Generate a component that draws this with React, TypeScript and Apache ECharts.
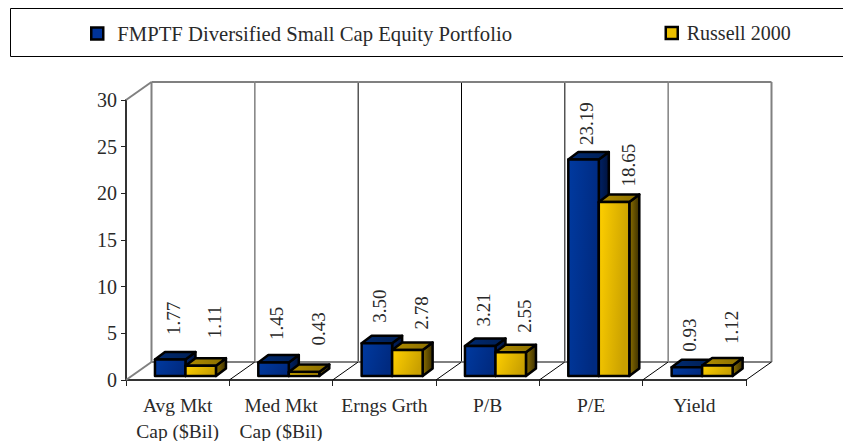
import React, { useEffect, useRef } from "react";
import * as echarts from "echarts";

const categories = ["Avg Mkt\nCap ($Bil)", "Med Mkt\nCap ($Bil)", "Erngs Grth", "P/B", "P/E", "Yield"];
const portfolioName = "FMPTF Diversified Small Cap Equity Portfolio";
const benchmarkName = "Russell 2000";
const portfolioValues = [1.77, 1.45, 3.5, 3.21, 23.19, 0.93];
const benchmarkValues = [1.11, 0.43, 2.78, 2.55, 18.65, 1.12];
const portfolioLabelGaps = [17, 15, 13, 12, 7, 8];
const benchmarkLabelGaps = [20, 19, 13, 12, 8, 14];

const FONT = "'Liberation Serif', serif";
const TEXT = "#2a2a2a";
const DX = 25.5;
const DY = 18;
const BAR_W = 30.5;
const DEPTH_X = 10;
const DEPTH_Y = 7.5;
const BASE_X = 7.8;
const BASE_Y = 4;
const LABEL_SHIFT = [3, 14];

const palette = {
  blue: { front: ["#003aa0", "#002a80"], top: ["#002a70", "#001f55"], side: ["#002266", "#00123c"] },
  gold: { front: ["#ffd000", "#c9a000"], top: ["#b08c00", "#8a6e00"], side: ["#8a6e00", "#3d3000"] },
};

function lin(c: string[], diag = 0) {
  return new echarts.graphic.LinearGradient(0, 0, 1, diag, [
    { offset: 0, color: c[0] },
    { offset: 1, color: c[1] },
  ]);
}

function barSeries(name: string, values: number[], gaps: number[], pal: typeof palette.blue, slot: number) {
  return {
    type: "custom",
    name,
    z: 3 + slot,
    clip: false,
    encode: { x: 0, y: 1 },
    data: values.map((v, i) => [i, v, gaps[i]]),
    itemStyle: { color: pal.front[0] },
    renderItem(_: any, api: any) {
      const i = api.value(0);
      const v = api.value(1);
      const gap = api.value(2);
      const c = api.coord([i, v]);
      const base = api.coord([i, 0]);
      const x0 = c[0] - BAR_W + BASE_X + slot * BAR_W;
      const x1 = x0 + BAR_W;
      const yB = base[1] - BASE_Y;
      const yT = c[1] - BASE_Y;
      const stroke = { stroke: "#000", lineWidth: 2.5, lineJoin: "round" };
      return {
        type: "group",
        children: [
          {
            type: "polygon",
            shape: { points: [[x1, yT], [x1 + DEPTH_X, yT - DEPTH_Y], [x1 + DEPTH_X, yB - DEPTH_Y], [x1, yB]] },
            style: { fill: lin(pal.side), ...stroke },
          },
          {
            type: "polygon",
            shape: { points: [[x0, yT], [x0 + DEPTH_X, yT - DEPTH_Y], [x1 + DEPTH_X, yT - DEPTH_Y], [x1, yT]] },
            style: { fill: lin(pal.top), ...stroke },
          },
          {
            type: "rect",
            shape: { x: x0, y: yT, width: BAR_W, height: yB - yT },
            style: { fill: lin(pal.front, 0.3), ...stroke },
          },
          {
            type: "text",
            x: x0 + BAR_W / 2 + LABEL_SHIFT[slot],
            y: yT - DEPTH_Y - gap,
            rotation: Math.PI / 2,
            style: {
              text: api.value(1).toFixed(2),
              font: `19px ${FONT}`,
              fill: TEXT,
              align: "left",
              verticalAlign: "middle",
            },
          },
        ],
      };
    },
  };
}

const wallSeries = {
  type: "custom",
  silent: true,
  z: 1,
  clip: false,
  encode: { x: 0, y: 1 },
  data: categories.map((_, i) => [i, 0]),
  renderItem(_: any, api: any) {
    const i = api.value(0);
    const band = api.size([1, 0])[0];
    const c = api.coord([i, 0]);
    const top = api.coord([i, 30]);
    const xL = c[0] - band / 2;
    const xR = c[0] + band / 2;
    const yB = c[1];
    const yT = top[1];
    const grayLine = i === 0 || i >= 4;
    const children: any[] = [
      { type: "line", shape: { x1: xL, y1: yB, x2: xL + DX, y2: yB - DY }, style: { stroke: i === 0 ? "#808080" : "#000", lineWidth: i === 0 ? 2 : 1 } },
      { type: "line", shape: { x1: xR + DX, y1: yT - DY, x2: xR + DX, y2: yB - DY }, style: { stroke: grayLine ? "#808080" : "#000", lineWidth: i === 5 ? 2 : grayLine ? 1.5 : 1 } },
      { type: "line", shape: { x1: xL + DX, y1: yT - DY, x2: xR + DX, y2: yT - DY }, style: { stroke: "#808080", lineWidth: 2 } },
      { type: "line", shape: { x1: xL + DX, y1: yB - DY, x2: xR + DX, y2: yB - DY }, style: { stroke: "#808080", lineWidth: 2 } },
    ];
    if (i === 0) {
      children.push(
        { type: "line", shape: { x1: xL + DX, y1: yT - DY, x2: xL + DX, y2: yB - DY }, style: { stroke: "#808080", lineWidth: 2 } },
        { type: "line", shape: { x1: xL, y1: yT, x2: xL + DX, y2: yT - DY }, style: { stroke: "#808080", lineWidth: 2 } },
      );
    }
    if (i === 5) {
      children.push({ type: "line", shape: { x1: xR, y1: yB, x2: xR + DX, y2: yB - DY }, style: { stroke: "#000", lineWidth: 1 } });
    }
    return { type: "group", children };
  },
};

export default function App() {
  const ref = useRef<HTMLDivElement>(null);
  useEffect(() => {
    const chart = echarts.init(ref.current!, undefined, { renderer: "svg" });
    const legendBase = {
      top: 23,
      itemWidth: 12,
      itemHeight: 12,
      icon: "rect",
      selectedMode: false,
      padding: 0,
    };
    chart.setOption({
      animation: false,
      backgroundColor: "#ffffff",
      textStyle: { fontFamily: FONT },
      grid: { left: 126, right: 97, top: 100, bottom: 61, outerBoundsMode: "none" },
      legend: [
        {
          ...legendBase,
          left: 90,
          textStyle: { fontFamily: FONT, fontSize: 20.7, color: TEXT, padding: [0, 0, 0, 9] },
          data: [{ name: portfolioName, itemStyle: { color: "#003399", borderColor: "#000", borderWidth: 2.5 } }],
        },
        {
          ...legendBase,
          left: 664.5,
          textStyle: { fontFamily: FONT, fontSize: 20, color: TEXT, padding: [0, 0, 0, 4] },
          data: [{ name: benchmarkName, itemStyle: { color: "#ecc000", borderColor: "#000", borderWidth: 2.5 } }],
        },
      ],
      graphic: [
        {
          type: "rect",
          silent: true,
          shape: { x: 10.5, y: 8.5, width: 900, height: 48 },
          style: { fill: "none", stroke: "#000", lineWidth: 1 },
        },
      ],
      xAxis: {
        type: "category",
        data: categories,
        axisLine: { show: true, lineStyle: { color: "#333", width: 2 } },
        axisTick: { show: true, alignWithLabel: false, length: 6, lineStyle: { color: "#222", width: 1 } },
        axisLabel: { fontSize: 19.5, color: TEXT, margin: 12, lineHeight: 26, fontFamily: FONT, interval: 0 },
        splitLine: { show: false },
      },
      yAxis: {
        type: "value",
        min: 0,
        max: 30,
        interval: 5,
        axisLine: { show: true, lineStyle: { color: "#333", width: 2 } },
        axisTick: { show: true, length: 5, lineStyle: { color: "#222", width: 1 } },
        axisLabel: { fontSize: 20, color: TEXT, margin: 9, fontFamily: FONT },
        splitLine: { show: false },
      },
      series: [
        wallSeries,
        barSeries(portfolioName, portfolioValues, portfolioLabelGaps, palette.blue, 0),
        barSeries(benchmarkName, benchmarkValues, benchmarkLabelGaps, palette.gold, 1),
      ],
    });
    return () => chart.dispose();
  }, []);
  return <div ref={ref} style={{ position: "fixed", left: 0, top: 0, width: 843, height: 441 }} />;
}
